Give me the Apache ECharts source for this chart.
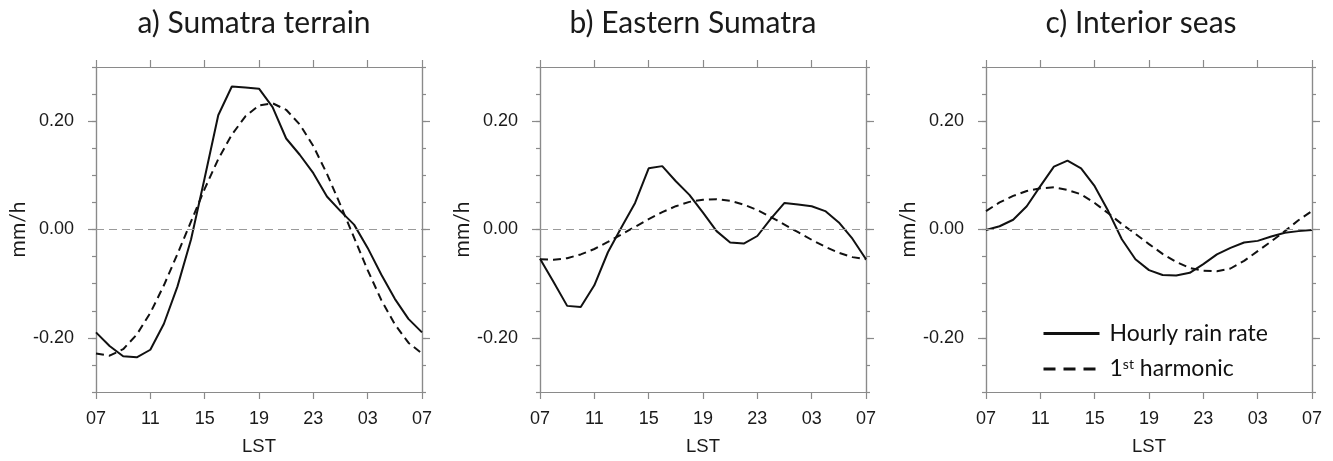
<!DOCTYPE html>
<html>
<head>
<meta charset="utf-8">
<script src="https://cdn.jsdelivr.net/npm/echarts@6/dist/echarts.min.js"></script>
<style>html,body{margin:0;padding:0;background:#fff;}#c{width:1333px;height:461px;}</style>
</head>
<body>
<div id="c"></div>
<script>
// ---- data ----
var hours = [0,1,2,3,4,5,6,7,8,9,10,11,12,13,14,15,16,17,18,19,20,21,22,23,24];
var xTickLabels = ['07','11','15','19','23','03','07'];
var yTickValues = [-0.2, 0, 0.2];
var panelTitles = ['a) Sumatra terrain', 'b) Eastern Sumatra', 'c) Interior seas'];
var seriesNames = ['Hourly rain rate', '1st harmonic'];

var rainA = [-0.190,-0.215,-0.234,-0.236,-0.222,-0.174,-0.105,-0.018,0.095,0.211,0.264,0.262,0.260,0.226,0.168,0.138,0.104,0.061,0.034,0.009,-0.034,-0.083,-0.128,-0.165,-0.190];
var harmA = [-0.229,-0.233,-0.221,-0.194,-0.154,-0.103,-0.045,0.015,0.075,0.130,0.175,0.209,0.229,0.233,0.221,0.194,0.154,0.103,0.045,-0.015,-0.075,-0.130,-0.175,-0.209,-0.229];

var rainB = [-0.054,-0.097,-0.141,-0.143,-0.103,-0.042,0.004,0.049,0.113,0.117,0.089,0.064,0.031,-0.003,-0.024,-0.026,-0.012,0.020,0.049,0.046,0.043,0.034,0.013,-0.017,-0.055];
var harmB = [-0.055,-0.056,-0.053,-0.046,-0.036,-0.023,-0.009,0.005,0.019,0.032,0.043,0.051,0.055,0.056,0.053,0.046,0.036,0.023,0.009,-0.005,-0.019,-0.032,-0.043,-0.051,-0.055];

var rainC = [-0.001,0.006,0.018,0.043,0.080,0.116,0.127,0.113,0.080,0.034,-0.018,-0.055,-0.075,-0.084,-0.085,-0.080,-0.064,-0.046,-0.034,-0.024,-0.021,-0.013,-0.006,-0.003,-0.001];
var harmC = [0.034,0.050,0.062,0.071,0.076,0.078,0.073,0.065,0.049,0.030,0.010,-0.008,-0.027,-0.045,-0.060,-0.071,-0.076,-0.077,-0.072,-0.058,-0.040,-0.022,-0.003,0.017,0.034];

var rainSets = [rainA, rainB, rainC];
var harmSets = [harmA, harmB, harmC];

// ---- layout ----
var gridLefts = [96, 540, 986];
var titleCenters = [249, 688, 1136];
var frameColor = '#8a8a8a';
var axisFont = 'Liberation Sans, Arial, Helvetica, sans-serif';
var titleFont = 'Lato, "Open Sans", sans-serif';

function pairs(vals) { return hours.map(function (h, i) { return [h, vals[i]]; }); }

var grids = [], xAxes = [], yAxes = [], series = [], titles = [];
for (var i = 0; i < 3; i++) {
  grids.push({ left: gridLefts[i], top: 67, width: 326, height: 326, containLabel: false });
  titles.push({ text: panelTitles[i], left: titleCenters[i], top: 3, textAlign: 'center',
    textStyle: { fontFamily: titleFont, fontSize: 30, fontWeight: 'normal', color: '#1a1a1a' } });
  var baseX = {
    gridIndex: i, type: 'value', min: 0, max: 24, interval: 4,
    axisLine: { show: true, onZero: false, lineStyle: { color: frameColor, width: 1.2 } },
    axisTick: { show: true, inside: false, length: 7, lineStyle: { color: frameColor, width: 1.2 } },
    splitLine: { show: false }
  };
  xAxes.push(Object.assign({}, baseX, {
    position: 'bottom',
    axisLabel: { show: true, margin: 18, fontSize: 18, color: '#1a1a1a', fontFamily: axisFont,
      formatter: function (v) { return xTickLabels[Math.round(v / 4)]; } },
    name: 'LST', nameLocation: 'middle', nameGap: 45,
    nameTextStyle: { fontSize: 18.5, color: '#1a1a1a', fontFamily: axisFont }
  }));
  xAxes.push(Object.assign({}, baseX, { position: 'top', axisLabel: { show: false } }));

  var baseY = {
    gridIndex: i, type: 'value', min: -0.3, max: 0.3, interval: 0.05,
    axisLine: { show: true, onZero: false, lineStyle: { color: frameColor, width: 1.2 } },
    splitLine: { show: false }, axisLabel: { show: false }
  };
  // left minor
  yAxes.push(Object.assign({}, baseY, { position: 'left',
    axisTick: { show: true, length: 4, lineStyle: { color: frameColor, width: 1.2 } } }));
  // left major + labels
  yAxes.push(Object.assign({}, baseY, { position: 'left',
    axisTick: { show: true, length: 8, customValues: yTickValues, lineStyle: { color: frameColor, width: 1.2 } },
    axisLabel: { show: true, customValues: yTickValues, margin: 22, fontSize: 18, color: '#1a1a1a', fontFamily: axisFont,
      formatter: function (v) { return (Math.abs(v) < 1e-9 ? 0 : v).toFixed(2); } },
    name: 'mm/h', nameLocation: 'middle', nameGap: 64, nameRotate: 90,
    nameTextStyle: { fontSize: 21, color: '#1a1a1a', fontFamily: titleFont }
  }));
  // right minor
  yAxes.push(Object.assign({}, baseY, { position: 'right',
    axisTick: { show: true, length: 4, lineStyle: { color: frameColor, width: 1.2 } } }));
  // right major
  yAxes.push(Object.assign({}, baseY, { position: 'right',
    axisTick: { show: true, length: 8, customValues: yTickValues, lineStyle: { color: frameColor, width: 1.2 } } }));

  series.push({
    name: seriesNames[0], type: 'line', xAxisIndex: 2 * i, yAxisIndex: 4 * i,
    data: pairs(rainSets[i]), symbol: 'none', smooth: false,
    lineStyle: { color: '#111', width: 2 }, itemStyle: { color: '#111' },
    z: 3,
    markLine: { silent: true, symbol: ['none', 'none'], label: { show: false },
      lineStyle: { color: '#9a9a9a', type: [8, 5], width: 1.2 },
      data: [{ yAxis: 0 }], animation: false }
  });
  series.push({
    name: seriesNames[1], type: 'line', xAxisIndex: 2 * i, yAxisIndex: 4 * i,
    data: pairs(harmSets[i]), symbol: 'none', smooth: false,
    lineStyle: { color: '#111', width: 2, type: [8, 5] }, itemStyle: { color: '#111' },
    z: 3
  });
}

var chart = echarts.init(document.getElementById('c'), null, { renderer: 'canvas' });
chart.setOption({
  animation: false,
  backgroundColor: '#ffffff',
  title: titles,
  grid: grids,
  xAxis: xAxes,
  yAxis: yAxes,
  legend: {
    orient: 'vertical', left: 1037, top: 317, itemWidth: 56, itemHeight: 14, itemGap: 12,
    itemStyle: { opacity: 0 },
    data: [
      { name: seriesNames[0], lineStyle: { width: 3 } },
      { name: seriesNames[1], lineStyle: { width: 3, type: [12, 8] } }
    ],
    textStyle: { fontFamily: titleFont, fontSize: 23, color: '#111', padding: [0, 0, 0, 5],
      rich: { sup: { fontFamily: titleFont, fontSize: 14, color: '#111', padding: [0, 0, 10, 0] } } },
    formatter: function (n) { return n === '1st harmonic' ? '1{sup|st} harmonic' : n; },
    selectedMode: false
  },
  series: series
});
</script>
</body>
</html>
